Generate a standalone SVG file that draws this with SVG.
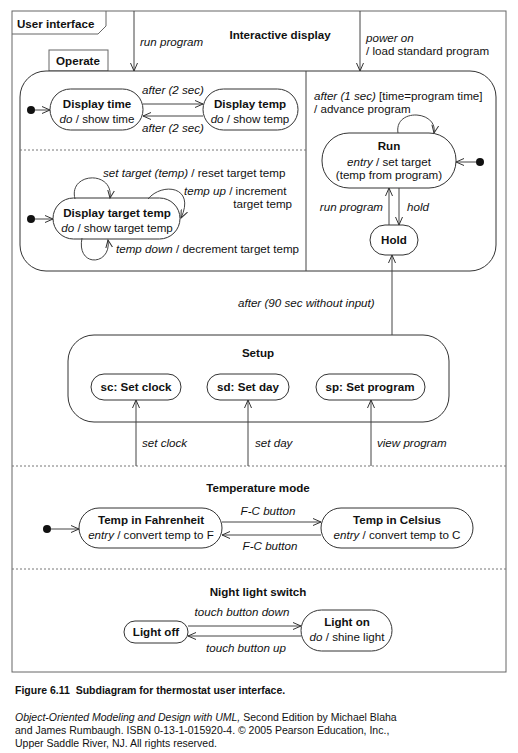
<svg xmlns="http://www.w3.org/2000/svg" width="518" height="753" viewBox="0 0 518 753">
<defs>
<marker id="arr" markerWidth="10" markerHeight="8" refX="8" refY="4" orient="auto" markerUnits="userSpaceOnUse">
<path d="M0,0.5 L8,4 L0,7.5" fill="none" stroke="#333" stroke-width="1"/>
</marker>
</defs>
<style>
text{font-family:"Liberation Sans",Arial,sans-serif;font-size:11.6px;fill:#111}
.b{font-weight:bold}
.i{font-style:italic}
.m{text-anchor:middle}
.e{text-anchor:end}
.st{fill:#fff;stroke:#333;stroke-width:1}
.fr{fill:none;stroke:#666;stroke-width:1}
.ds{fill:none;stroke:#777;stroke-width:1;stroke-dasharray:2,2}
.c{fill:none;stroke:#444;stroke-width:1}
.ca{fill:none;stroke:#444;stroke-width:1;marker-end:url(#arr)}
.dot{fill:#111}
.cap{font-size:10.5px}
</style>
<rect width="518" height="753" fill="#fff"/>

<g id="frame">
<rect class="fr" x="12" y="11" width="494" height="661"/>
<path class="fr" d="M12,34 L98,34 L106,26 L106,11"/>
<text class="b" x="17" y="28">User interface</text>
<line class="ds" x1="12" y1="466" x2="506" y2="466"/>
<line class="ds" x1="12" y1="569" x2="506" y2="569"/>
</g>

<g id="interactive-display">
<rect class="fr" x="49" y="50" width="59" height="21"/>
<text class="b m" x="78" y="65">Operate</text>
<rect class="st" x="20" y="71" width="476" height="200" rx="26"/>
<line class="c" x1="306" y1="71" x2="306" y2="271"/>
<line class="ds" x1="20" y1="150" x2="306" y2="150"/>
<text class="b m" x="280" y="39">Interactive display</text>
</g>

<g id="display-time">
<rect class="st" x="50" y="89" width="93" height="41" rx="20.5"/>
<text class="b m" x="97" y="108">Display time</text>
<text class="m" x="97" y="123"><tspan class="i">do</tspan> / show time</text>
</g>
<g id="display-temp">
<rect class="st" x="203" y="89" width="95" height="41" rx="20.5"/>
<text class="b m" x="250" y="108">Display temp</text>
<text class="m" x="250" y="123"><tspan class="i">do</tspan> / show temp</text>
</g>
<g id="display-target-temp">
<rect class="st" x="53" y="198" width="127" height="41" rx="20.5"/>
<text class="b m" x="117" y="217">Display target temp</text>
<text class="m" x="117" y="232"><tspan class="i">do</tspan> / show target temp</text>
</g>
<g id="run">
<rect class="st" x="322" y="133" width="134" height="55" rx="27"/>
<text class="b m" x="389" y="150">Run</text>
<text class="m" x="389" y="166"><tspan class="i">entry</tspan> / set target</text>
<text class="m" x="389" y="179">(temp from program)</text>
</g>
<g id="hold">
<rect class="st" x="370" y="225" width="48" height="30" rx="15"/>
<text class="b m" x="394" y="244">Hold</text>
</g>

<g id="setup">
<rect class="st" x="68" y="335" width="381" height="87" rx="26"/>
<text class="b m" x="258" y="357">Setup</text>
</g>
<g id="set-clock">
<rect class="st" x="91" y="374" width="90" height="26" rx="13"/>
<text class="b m" x="136" y="391">sc: Set clock</text>
</g>
<g id="set-day">
<rect class="st" x="207" y="374" width="82" height="26" rx="13"/>
<text class="b m" x="248" y="391">sd: Set day</text>
</g>
<g id="set-program">
<rect class="st" x="316" y="374" width="109" height="26" rx="13"/>
<text class="b m" x="370" y="391">sp: Set program</text>
</g>

<g id="temperature-mode">
<text class="b m" x="258" y="492">Temperature mode</text>
</g>
<g id="temp-fahrenheit">
<rect class="st" x="79" y="508" width="143" height="40" rx="20"/>
<text class="b m" x="151" y="524">Temp in Fahrenheit</text>
<text class="m" x="151" y="539"><tspan class="i">entry</tspan> / convert temp to F</text>
</g>
<g id="temp-celsius">
<rect class="st" x="321" y="508" width="152" height="40" rx="20"/>
<text class="b m" x="397" y="524">Temp in Celsius</text>
<text class="m" x="397" y="539"><tspan class="i">entry</tspan> / convert temp to C</text>
</g>

<g id="night-light-switch">
<text class="b m" x="258" y="596">Night light switch</text>
</g>
<g id="light-off">
<rect class="st" x="124" y="621" width="64" height="22" rx="11"/>
<text class="b m" x="156" y="636">Light off</text>
</g>
<g id="light-on">
<rect class="st" x="301" y="610" width="91" height="41" rx="20.5"/>
<text class="b m" x="347" y="626">Light on</text>
<text class="m" x="347" y="641"><tspan class="i">do</tspan> / shine light</text>
</g>

<g id="initial-states">
<circle class="dot" cx="31" cy="110" r="4"/>
<circle class="dot" cx="31" cy="219" r="4"/>
<circle class="dot" cx="480" cy="162" r="4"/>
<circle class="dot" cx="47" cy="529" r="4"/>
</g>

<g id="connectors">
<line class="ca" x1="134" y1="11" x2="134" y2="71"/>
<line class="ca" x1="360" y1="11" x2="360" y2="71"/>
<line class="ca" x1="35" y1="110" x2="50" y2="110"/>
<line class="ca" x1="143" y1="104" x2="203" y2="104"/>
<line class="ca" x1="203" y1="116" x2="143" y2="116"/>
<line class="ca" x1="35" y1="219" x2="53" y2="219"/>
<path class="ca" d="M75,199 C68,172 114,170 110,198"/>
<path class="ca" d="M148,199 C162,182 196,186 181,218"/>
<path class="ca" d="M82,238 C76,268 112,266 108,240"/>
<path class="ca" d="M398,133 C394,108 438,110 434,133"/>
<line class="ca" x1="476" y1="162" x2="456" y2="162"/>
<line class="ca" x1="399" y1="188" x2="399" y2="225"/>
<line class="ca" x1="389" y1="225" x2="389" y2="188"/>
<line class="ca" x1="392" y1="335" x2="392" y2="255"/>
<line class="ca" x1="136" y1="466" x2="136" y2="400"/>
<line class="ca" x1="248" y1="466" x2="248" y2="400"/>
<line class="ca" x1="371" y1="466" x2="371" y2="400"/>
<line class="ca" x1="51" y1="529" x2="79" y2="529"/>
<line class="ca" x1="222" y1="522" x2="321" y2="522"/>
<line class="ca" x1="321" y1="535" x2="222" y2="535"/>
<line class="ca" x1="188" y1="626" x2="301" y2="626"/>
<line class="ca" x1="301" y1="636" x2="188" y2="636"/>
</g>

<g id="connector-labels">
<text class="i" x="140" y="46">run program</text>
<text class="i" x="366" y="42">power on</text>
<text x="366" y="55">/ load standard program</text>
<text class="i m" x="173" y="94">after (2 sec)</text>
<text class="i m" x="173" y="132">after (2 sec)</text>
<text x="103" y="177"><tspan class="i">set target (temp)</tspan> / reset target temp</text>
<text x="184" y="195"><tspan class="i">temp up</tspan> / increment</text>
<text class="e" x="292" y="208">target temp</text>
<text x="116" y="253"><tspan class="i">temp down</tspan> / decrement target temp</text>
<text x="314" y="100"><tspan class="i">after (1 sec)</tspan> [time=program time]</text>
<text x="314" y="113">/ advance program</text>
<text class="i e" x="383" y="211">run program</text>
<text class="i" x="407" y="211">hold</text>
<text class="i" x="238" y="307">after (90 sec without input)</text>
<text class="i" x="142" y="447">set clock</text>
<text class="i" x="255" y="447">set day</text>
<text class="i" x="377" y="447">view program</text>
<text class="i m" x="268" y="515">F-C button</text>
<text class="i m" x="270" y="550">F-C button</text>
<text class="i m" x="242" y="616">touch button down</text>
<text class="i m" x="246" y="652">touch button up</text>
</g>

<g id="caption">
<text class="b cap" x="15" y="694" xml:space="preserve">Figure 6.11  Subdiagram for thermostat user interface.</text>
<text class="cap" x="15" y="721"><tspan class="i">Object-Oriented Modeling and Design with UML,</tspan> Second Edition by Michael Blaha</text>
<text class="cap" x="15" y="734">and James Rumbaugh. ISBN 0-13-1-015920-4. © 2005 Pearson Education, Inc.,</text>
<text class="cap" x="15" y="747">Upper Saddle River, NJ. All rights reserved.</text>
</g>
</svg>
